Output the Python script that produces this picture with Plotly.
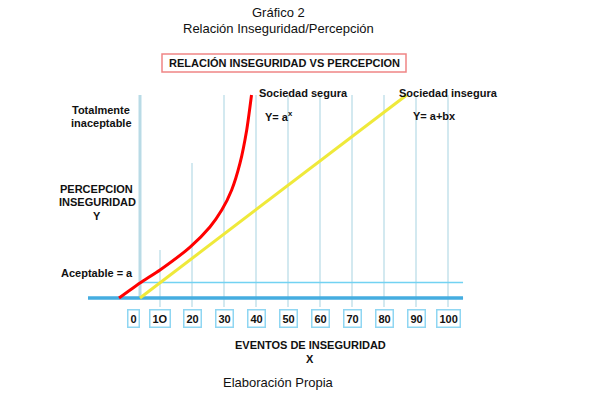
import plotly.graph_objects as go

# ---------------- data ----------------
tick_values = [0, 10, 20, 30, 40, 50, 60, 70, 80, 90, 100]
tick_labels = ["0", "1O", "20", "30", "40", "50", "60", "70", "80", "90", "100"]

# vertical guide lines (event levels) and the perception level where each starts
grid_x = [10, 20, 30, 40, 50, 60, 70, 80, 90, 100]
grid_top = [23.6, 66.5, 100, 100, 100, 100, 100, 100, 100, 100]
grid_bottom = -4.4

axis_x = 3.75          # perception axis position
axis_top = 100
acceptable_y = 7.6     # "Aceptable = a"
base_x = [-12.5, 104.7]

# Sociedad segura: Y = a^x
red_x = [-2.8, 3.75, 10.0, 19.4, 25.6, 29.3, 32.4, 35.0, 37.1, 38.6]
red_y = [0.0, 7.4, 13.8, 25.1, 35.0, 43.3, 53.2, 66.4, 82.8, 100.0]

# Sociedad insegura: Y = a + bx
yel_x = [3.75, 87.1]
yel_y = [0.0, 100.0]

W, H = 593, 395
X0, XS = 128, 3.2             # page pixel of x=0, pixels per unit
Y0, YS = 298, 2.03


def px(x):
    return x / W


def py(y):
    return 1 - y / H


fig = go.Figure()

# guide lines
for gx, gt in zip(grid_x, grid_top):
    fig.add_trace(go.Scatter(x=[gx, gx], y=[grid_bottom, gt], mode="lines",
                             line=dict(color="#d3e9f0", width=2),
                             hoverinfo="skip", showlegend=False))
# perception axis
fig.add_trace(go.Scatter(x=[axis_x, axis_x], y=[0, axis_top], mode="lines",
                         line=dict(color="#b9dbe6", width=3),
                         hoverinfo="skip", showlegend=False))
# acceptable line
fig.add_trace(go.Scatter(x=[axis_x, base_x[1]], y=[acceptable_y, acceptable_y], mode="lines",
                         line=dict(color="#72d2f2", width=1.5),
                         hoverinfo="skip", showlegend=False))
# base line
fig.add_trace(go.Scatter(x=base_x, y=[0, 0], mode="lines",
                         line=dict(color="#45ade0", width=3.5),
                         hoverinfo="skip", showlegend=False))
# yellow
fig.add_trace(go.Scatter(x=yel_x, y=yel_y, mode="lines",
                         line=dict(color="#efe93a", width=3),
                         name="Sociedad insegura", showlegend=False))
# red
fig.add_trace(go.Scatter(x=red_x, y=red_y, mode="lines",
                         line=dict(color="#ff0000", width=3, shape="spline", smoothing=0.6),
                         name="Sociedad segura", showlegend=False))

FONT = "Liberation Sans, Arial, sans-serif"
ann = []


def text(t, x, y, size=11, bold=True, xanchor="center"):
    ann.append(dict(text=(f"<b>{t}</b>" if bold else t), x=px(x), y=py(y),
                    xref="paper", yref="paper", showarrow=False,
                    xanchor=xanchor, yanchor="middle",
                    font=dict(family=FONT, size=size, color="#111111")))


text("Gráfico 2", 278, 13, size=13, bold=False)
text("Relación Inseguridad/Percepción", 278, 28, size=13, bold=False)
text("RELACIÓN INSEGURIDAD VS PERCEPCION", 284, 63, size=11)
text("Totalmente", 101, 110)
text("inaceptable", 101, 123)
text("PERCEPCION", 96, 189)
text("INSEGURIDAD", 97, 202)
text("Y", 97, 216)
text("Aceptable = a", 97, 273)
text("Sociedad segura", 303, 93)
text("Y= a<sup>x</sup>", 263, 116, xanchor="left")
text("Sociedad insegura", 448, 93)
text("Y= a+bx", 411, 116, xanchor="left")
text("EVENTOS DE INSEGURIDAD", 310, 345)
text("X", 310, 359)
text("Elaboración Propia", 278, 382, size=13, bold=False)

# tick boxes
for v, lab in zip(tick_values, tick_labels):
    ann.append(dict(text=f"<b>{lab}</b>", x=v, y=(Y0 - 318) / YS,
                    xref="x", yref="y", showarrow=False,
                    xshift=5 if v == 0 else 0,
                    xanchor="center", yanchor="middle",
                    bordercolor="#8fd6f2", borderwidth=1.5, borderpad=2,
                    bgcolor="white",
                    font=dict(family=FONT, size=11, color="#111111")))

shapes = [dict(type="rect", xref="paper", yref="paper",
               x0=px(162), x1=px(406), y0=py(54), y1=py(72),
               line=dict(color="#f08585", width=1.5), fillcolor="rgba(0,0,0,0)",
               layer="below")]

fig.update_layout(
    width=W, height=H, autosize=False,
    margin=dict(l=0, r=0, t=0, b=0),
    paper_bgcolor="white", plot_bgcolor="white",
    xaxis=dict(range=[-X0 / XS, (W - X0) / XS], visible=False, fixedrange=True),
    yaxis=dict(range=[(Y0 - H) / YS, Y0 / YS], visible=False, fixedrange=True),
    annotations=ann, shapes=shapes, showlegend=False,
)

fig.write_html(
    "out.html",
    config={"displayModeBar": False},
    post_script="document.body.style.margin='0';document.body.style.overflow='hidden';"
                "document.documentElement.style.overflow='hidden';",
)
